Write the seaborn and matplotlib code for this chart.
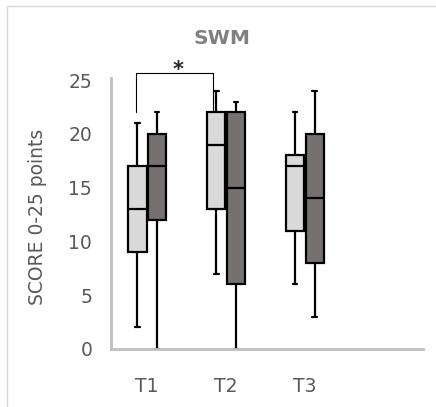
import matplotlib
matplotlib.use("Agg")
import matplotlib.pyplot as plt
import pandas as pd
import seaborn as sns
from matplotlib.patches import Rectangle

# Box statistics: min, Q1, median, Q3, max
times = ["T1", "T2", "T3"]
groups = ["A", "B"]
stats_a = {"T1": [2, 9, 13, 17, 21], "T2": [7, 13, 19, 22, 24], "T3": [6, 11, 17, 18, 22]}
stats_b = {"T1": [0, 12, 17, 20, 22], "T2": [0, 6, 15, 22, 23], "T3": [3, 8, 14, 20, 24]}
yticks = [0, 5, 10, 15, 20, 25]

# five points per box -> quartiles fall exactly on the listed values
rows = []
for t in times:
    for v in stats_a[t]:
        rows.append({"time": t, "group": "A", "score": v})
    for v in stats_b[t]:
        rows.append({"time": t, "group": "B", "score": v})
df = pd.DataFrame(rows)

sns.set_style("white")
plt.rcParams["font.family"] = ["DejaVu Sans"]

fig = plt.figure(figsize=(4.36, 4.07), dpi=100)
ax = fig.add_axes([111 / 436, 58 / 407, 312 / 436, 271 / 407])

sns.boxplot(data=df, x="time", y="score", hue="group", order=times, hue_order=groups,
            palette={"A": "#d9d9d9", "B": "#767171"}, saturation=1,
            whis=(0, 100), width=0.5, gap=0.07, linecolor="black", linewidth=1.6,
            capwidths=0.06, legend=False, ax=ax)

ax.set_xlim(-0.46, 3.5)
ax.set_ylim(0, 25.2)
ax.set_yticks(yticks)
ax.tick_params(axis="both", length=0, labelsize=13.5, colors="#595959")
ax.tick_params(axis="x", pad=20)
ax.tick_params(axis="y", pad=13.5)
ax.set_xlabel("")
ax.set_ylabel("SCORE 0-25 points", fontsize=13.5, color="#595959")
ax.yaxis.set_label_coords(-0.205, 0.487)

for side in ["top", "right"]:
    ax.spines[side].set_visible(False)
for side in ["left", "bottom"]:
    ax.spines[side].set_color("#bfbfbf")
    ax.spines[side].set_linewidth(2)

# significance bracket between T1 and T2
ax.plot([-0.145, -0.145, 0.83, 0.83], [22.0, 25.65, 25.65, 22.2],
        color="black", linewidth=0.8, clip_on=False)
ax.text(0.385, 25.4, "*", ha="center", va="baseline", fontsize=15, fontweight="bold",
        clip_on=False)

fig.text(222 / 436, 1 - 38 / 407, "SWM", ha="center", va="center", fontsize=14.5,
         fontweight="bold", color="#808080")

# light frame around the chart area
fig.patches.append(Rectangle((7 / 436, -0.1), 1.2, 1 - 6 / 407 + 0.1, fill=False,
                             edgecolor="#d9d9d9", linewidth=1, transform=fig.transFigure))

fig.savefig("out.png", dpi=100)
